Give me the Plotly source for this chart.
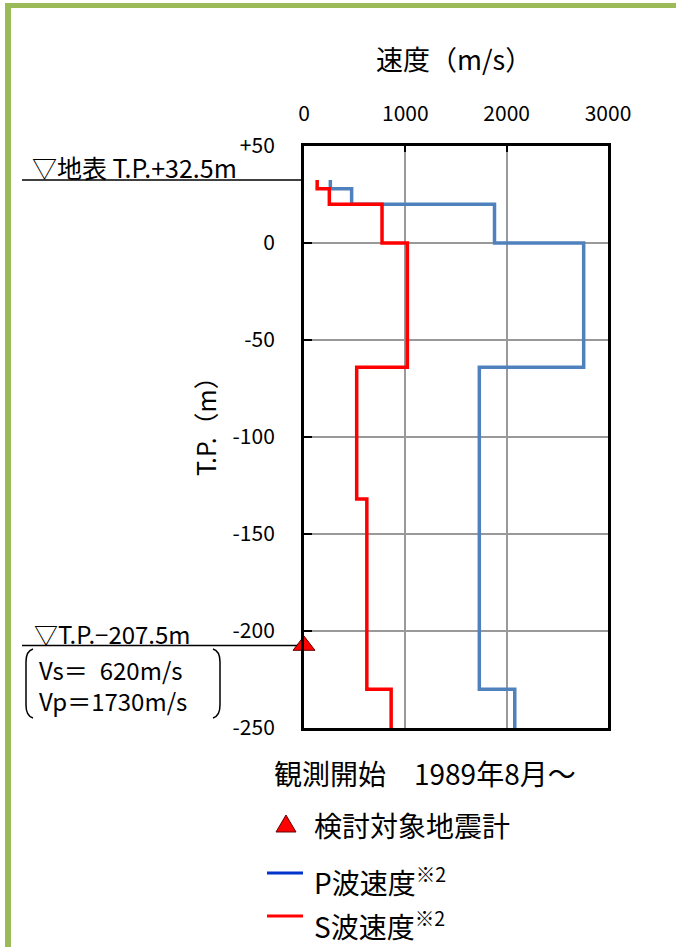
import plotly.graph_objects as go

# ---- data ----
layer_top = [32.5, 28, 20, 0, -64, -132, -230]
layer_bottom = [28, 20, 0, -64, -132, -230, -250]
vs = [130, 250, 770, 1020, 520, 620, 860]
vp = [260, 470, 1880, 2760, 1730, 1730, 2080]
x_ticks = [0, 1000, 2000, 3000]
y_ticks = [-250, -200, -150, -100, -50, 0, 50]
y_tick_text = ["-250", "-200", "-150", "-100", "-50", "0", "+50"]
ground_level = 32.5
sensor_level = -207.5
sensor_x = 0

W, H = 676, 947
L, R, T, B = 304, 608, 146, 728
FONT = "Noto Sans CJK JP"


def px(x):
    return (x - L) / (R - L)


def py(y):
    return (B - y) / (B - T)


def step(vals):
    xs, ys = [], []
    for v, t, b in zip(vals, layer_top, layer_bottom):
        xs += [v, v]
        ys += [t, b]
    return xs, ys


fig = go.Figure()
xs, ys = step(vp)
fig.add_trace(go.Scatter(x=xs, y=ys, mode="lines", line=dict(color="#4F81BD", width=3.5),
                         showlegend=False, cliponaxis=False))
xs, ys = step(vs)
fig.add_trace(go.Scatter(x=xs, y=ys, mode="lines", line=dict(color="#FF0000", width=3.5),
                         showlegend=False, cliponaxis=False))
fig.add_trace(go.Scatter(x=[sensor_x], y=[sensor_level], mode="markers",
                         marker=dict(symbol="triangle-up", size=19, color="#FF0000",
                                     line=dict(color="#600000", width=1)),
                         showlegend=False, cliponaxis=False))

shapes = []
# green frame
shapes.append(dict(type="rect", xref="paper", yref="paper", x0=px(5), x1=px(676), y0=py(3), y1=py(8),
                   fillcolor="#9BBB59", line=dict(width=0), layer="above"))
shapes.append(dict(type="rect", xref="paper", yref="paper", x0=px(5), x1=px(11), y0=py(3), y1=py(947),
                   fillcolor="#9BBB59", line=dict(width=0), layer="above"))
# ground & sensor lines
shapes.append(dict(type="line", xref="paper", yref="y", x0=px(22), x1=px(302), y0=ground_level, y1=ground_level,
                   line=dict(color="black", width=1.5)))
shapes.append(dict(type="line", xref="paper", yref="y", x0=px(22), x1=px(297), y0=sensor_level, y1=sensor_level,
                   line=dict(color="black", width=1.5)))


def pathpx(pts):
    s = "M %f,%f" % (px(pts[0][0]), py(pts[0][1]))
    for p in pts[1:]:
        if len(p) == 4:
            s += " Q %f,%f %f,%f" % (px(p[0]), py(p[1]), px(p[2]), py(p[3]))
        else:
            s += " L %f,%f" % (px(p[0]), py(p[1]))
    return s


# brackets
shapes.append(dict(type="path", xref="paper", yref="paper",
                   path=pathpx([(33, 649), (26, 651, 26, 662), (26, 705), (26, 716, 33, 718)]),
                   line=dict(color="black", width=1.5)))
shapes.append(dict(type="path", xref="paper", yref="paper",
                   path=pathpx([(213, 649), (220, 651, 220, 662), (220, 705), (220, 716, 213, 718)]),
                   line=dict(color="black", width=1.5)))
# legend triangle
shapes.append(dict(type="path", xref="paper", yref="paper",
                   path=pathpx([(276, 832), (296, 832), (286, 815)]) + " Z",
                   fillcolor="#FF0000", line=dict(color="#600000", width=1)))
# legend lines
shapes.append(dict(type="line", xref="paper", yref="paper", x0=px(267), x1=px(303), y0=py(873), y1=py(873),
                   line=dict(color="#0033CC", width=3)))
shapes.append(dict(type="line", xref="paper", yref="paper", x0=px(267), x1=px(303), y0=py(916), y1=py(916),
                   line=dict(color="#FF0000", width=3)))

annotations = []


def ann(text, x, y, size, xanchor="left", angle=0, align="left"):
    annotations.append(dict(text=text, x=px(x), y=py(y), xref="paper", yref="paper", xanchor=xanchor,
                            yanchor="middle", showarrow=False, textangle=angle, align=align,
                            font=dict(family=FONT, size=size, color="black")))


ann("速度（m/s）", 454, 58, 27, xanchor="center")
ann("T.P.（m）", 205, 420, 25, xanchor="center", angle=-90)
ann("▽地表 T.P.+32.5m", 30, 167, 25)
ann("▽T.P.−207.5m", 32, 633, 24)
ann("Vs＝\u2002620m/s<br>Vp＝1730m/s", 37, 685, 24)
ann("観測開始　1989年8月～", 272, 773, 28)
ann("検討対象地震計", 312, 825, 28)
ann("P波速度<sup>※2</sup>", 312, 880, 28)
ann("S波速度<sup>※2</sup>", 312, 924, 28)

fig.update_layout(
    width=W, height=H, autosize=False,
    margin=dict(l=L, r=W - R, t=T, b=H - B, pad=0),
    paper_bgcolor="white", plot_bgcolor="white",
    shapes=shapes, annotations=annotations,
    font=dict(family=FONT, size=21, color="black"),
    xaxis=dict(side="top", range=[0, 3000], tickvals=x_ticks, ticktext=[str(v) for v in x_ticks],
               showgrid=True, gridcolor="#999999", gridwidth=2,
               ticks="inside", ticklen=6, tickwidth=2, tickcolor="black",
               showline=True, linecolor="black", linewidth=3, mirror=True,
               zeroline=False, ticklabelstandoff=14, tickfont=dict(size=21)),
    yaxis=dict(range=[-250, 50], tickvals=y_ticks, ticktext=y_tick_text,
               showgrid=True, gridcolor="#999999", gridwidth=2,
               ticks="inside", ticklen=8, tickwidth=2, tickcolor="black",
               showline=True, linecolor="black", linewidth=3, mirror=True,
               zeroline=False, ticklabelstandoff=22, tickfont=dict(size=21)),
)

fig.write_html("out.html", config={"displayModeBar": False},
               post_script="document.body.style.margin='0';document.body.style.padding='0';")
